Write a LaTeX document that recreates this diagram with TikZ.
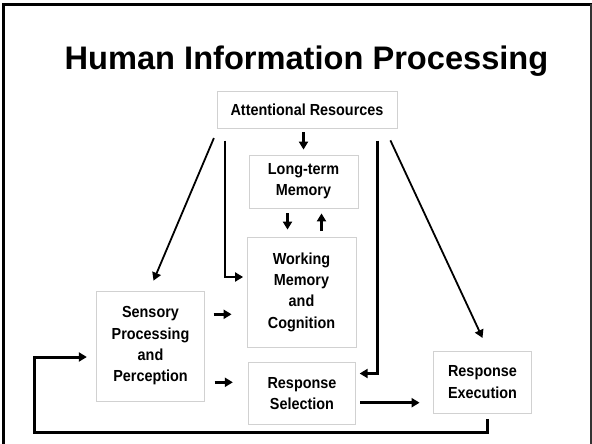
\documentclass[tikz,border=0pt]{standalone}
\usepackage{fontspec}
\setmainfont{Liberation Sans}
\newfontfamily\boxfont[FakeStretch=0.9]{Liberation Sans}
\usetikzlibrary{arrows.meta}

\tikzset{
    box/.style={draw=black!18, line width=0.8pt, fill=white, align=center,
        inner sep=0pt, font=\boxfont\fontsize{16}{21.3}\selectfont\bfseries},
    thick arrow/.style={->, line width=2.6pt},
    thin arrow/.style={->, line width=1.8pt}
}

\begin{document}
\begin{tikzpicture}[x=1pt,y=-1pt,>={Triangle[length=8pt,width=9pt]}]
    \useasboundingbox (0,0) rectangle (592,444);
    \draw[line width=3pt] (3.8,446) -- (3.8,4.5) -- (592,4.5);
    \draw[line width=1.2pt,black!80] (591,4.5) -- (591,446);

    \node[anchor=base,font=\fontsize{32.6}{40}\selectfont\bfseries] (title) at (306.5,69.3) {Human Information Processing};

    \node[box, minimum width=180pt, minimum height=36.5pt] (attn) at (307,110) {Attentional Resources};
    \node[box, minimum width=109pt, minimum height=53pt] (ltm) at (303.5,181.5) {Long-term\\Memory};
    \node[box, minimum width=109pt, minimum height=110pt] (wm) at (301.5,292) {Working\\Memory\\and\\Cognition};
    \node[box, minimum width=108.5pt, minimum height=110pt] (sens) at (150.5,346) {Sensory\\Processing\\and\\Perception};
    \node[box, minimum width=107.5pt, minimum height=61.5pt] (rs) at (302,393.5) {Response\\Selection};
    \node[box, minimum width=98pt, minimum height=62pt] (re) at (482.5,382) {Response\\Execution};
    \coordinate (loop) at (34.5,432.5);

    % attention
    \draw[thick arrow, shorten <=3.5pt, shorten >=5pt] (ltm.north |- attn.south) -- (ltm.north);
    \draw[thin arrow] ([xshift=-2.7pt,yshift=-9.4pt]attn.south west) -- ([xshift=3pt,yshift=10pt]sens.north);
    \draw[thin arrow] ([xshift=-7pt,yshift=-11.7pt]attn.south east) -- ([yshift=12.7pt]re.north);
    \draw[thick arrow] ([xshift=8.5pt,yshift=-12pt]attn.south west) |- ([xshift=-3.5pt]wm.west |- 0,277);
    \draw[thick arrow] ([xshift=-20pt,yshift=-12pt]attn.south east) |- ([xshift=3.5pt]rs.east |- 0,373.5);

    % memory
    \draw[thick arrow, shorten <=5pt, shorten >=7pt] ([xshift=-16pt]ltm.south) -- ([xshift=-16pt]ltm.south |- wm.north);
    \draw[thick arrow, shorten <=5.5pt, shorten >=5pt] ([xshift=18pt]ltm.south |- wm.north) -- ([xshift=18pt]ltm.south);

    % flow
    \draw[thick arrow, shorten <=8.5pt, shorten >=15pt] (sens.east |- 0,314.3) -- (wm.west |- 0,314.3);
    \draw[thick arrow, shorten <=9.5pt, shorten >=15pt] (sens.east |- 0,382.3) -- (rs.west |- 0,382.3);
    \draw[thick arrow, shorten <=4pt, shorten >=13.5pt] (rs.east |- 0,402.7) -- (re.west |- 0,402.7);
    \draw[thick arrow, line width=3pt] ([xshift=4.5pt,yshift=-6pt]re.south) |- (loop) |- ([xshift=-9pt]sens.west |- 0,357);
\end{tikzpicture}
\end{document}
